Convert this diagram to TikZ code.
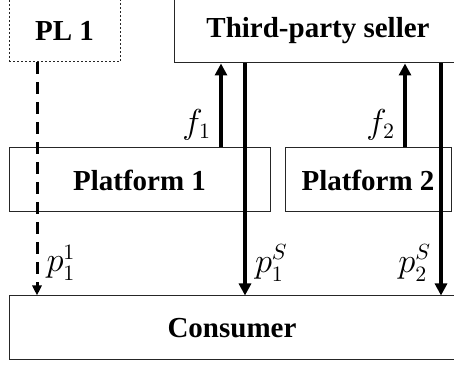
\documentclass[tikz,border=0pt]{standalone}
\usepackage{fontspec}
\setmainfont{Liberation Serif}
\usetikzlibrary{arrows.meta}
\tikzset{
    market diagram/.style = {x=0.5pt, y=0.5pt},
    box/.style      = {draw=black!85, line width=0.5pt, inner sep=0pt,
                       font=\fontsize{14.5}{17}\selectfont\bfseries},
    plbox/.style    = {box, dash pattern=on 1.2pt off 0.8pt},
    flow/.style     = {line width=2pt, -{Triangle[length=6pt,width=6pt]}},
    plflow/.style   = {line width=1.5pt, dash pattern=on 6pt off 4pt,
                       -{Triangle[length=5pt,width=4.5pt]}},
    sig/.style      = {font=\fontsize{16}{18}\selectfont, inner xsep=4pt}
}

\begin{document}
\begin{tikzpicture}[market diagram]
\useasboundingbox (0,0) rectangle (454,367);

\node[plbox,minimum width=55.5pt,minimum height=31pt] (pl) at (64.5,336) {PL 1};
\node[box,minimum width=144pt,minimum height=32pt] (seller) at (318,336) {Third-party seller};
\node[box,minimum width=130.5pt,minimum height=32pt] (plat1) at (139.5,187) {Platform 1};
\node[box,minimum width=83pt,minimum height=32pt] (plat2) at (368,187) {Platform 2};
\node[box,minimum width=223pt,minimum height=32pt] (consumer) at (232,39) {Consumer};

% fees go up, prices come down
\coordinate (f1) at ([xshift=40.75pt]plat1.north);
\coordinate (f2) at ([xshift=18.5pt]plat2.north);
\coordinate (ps1) at ([xshift=-36.5pt]seller.south);
\coordinate (ps2) at ([xshift=61.5pt]seller.south);
\coordinate (pp1) at ([xshift=-13.75pt]pl.south);

\draw[flow] (f1) -- node[sig,left,pos=0.27] {$f_1$} (f1 |- seller.south);
\draw[flow] (f2) -- node[sig,left,pos=0.27] {$f_2$} (f2 |- seller.south);
\draw[flow] (ps1) -- node[sig,right,pos=0.86] {$p_1^S$} (ps1 |- consumer.north);
\draw[flow] (ps2) -- node[sig,left,pos=0.86] {$p_2^S$} (ps2 |- consumer.north);
\draw[plflow] (pp1) -- node[sig,right,pos=0.86] {$p_1^1$} (pp1 |- consumer.north);
\end{tikzpicture}
\end{document}
